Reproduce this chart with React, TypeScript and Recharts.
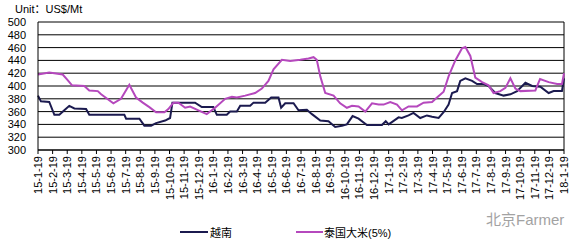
import { LineChart, Line, XAxis, YAxis, CartesianGrid, ReferenceLine, Legend } from 'recharts'

// x positions are months since 15-1-19 (0 .. 36)
const monthLabels = [
  '15-1-19', '15-2-19', '15-3-19', '15-4-19', '15-5-19', '15-6-19', '15-7-19', '15-8-19', '15-9-19',
  '15-10-19', '15-11-19', '15-12-19', '16-1-19', '16-2-19', '16-3-19', '16-4-19', '16-5-19', '16-6-19',
  '16-7-19', '16-8-19', '16-9-19', '16-10-19', '16-11-19', '16-12-19', '17-1-19', '17-2-19', '17-3-19',
  '17-4-19', '17-5-19', '17-6-19', '17-7-19', '17-8-19', '17-9-19', '17-10-19', '17-11-19', '17-12-19',
  '18-1-19',
]
const yTicks = [300, 320, 340, 360, 380, 400, 420, 440, 460, 480, 500]

// 越南
const vnMonth = [
  0, 0.2, 0.77, 1.12, 1.46, 1.8, 2.14, 2.49, 3.29, 3.51, 5.91, 6.03, 6.94, 7.28, 7.74, 8.08, 8.7, 9.04,
  9.2, 10.75, 11.21, 12.0, 12.24, 12.92, 13.15, 13.61, 13.84, 14.52, 14.75, 15.55, 15.96, 16.46, 16.64,
  16.92, 17.49, 17.83, 18.4, 18.75, 19.32, 19.88, 20.34, 20.8, 21.14, 21.53, 21.94, 22.51, 23.54, 23.8,
  24.0, 24.68, 24.9, 25.36, 25.7, 26.16, 26.62, 26.97, 27.42, 27.76, 28.1, 28.34, 28.68, 28.9, 29.25,
  29.71, 30.05, 30.5, 30.84, 31.3, 31.87, 32.33, 32.79, 33.36, 33.82, 34.38, 34.95, 35.29, 35.86, 36.0,
]
const vnPrice = [
  385, 376, 375, 355, 355, 362, 369, 365, 364, 355, 355, 349, 349, 338, 338, 342, 346, 350,
  374, 374, 367, 367, 355, 355, 360, 360, 369, 369, 374, 374, 382, 382, 366,
  373, 373, 362, 363, 356, 346, 345, 336, 338, 340, 353, 349, 339, 339, 345,
  340, 351, 350, 354, 358, 350, 354, 352, 350, 359, 371, 389, 392, 408, 412,
  408, 403, 403, 400, 389, 385, 387, 392, 405, 400, 399, 389, 392, 392, 412,
]

// 泰国大米(5%)
const thMonth = [
  0, 0.77, 1.69, 2.0, 2.33, 3.17, 3.51, 4.09, 4.32, 5.16, 5.68, 6.25, 6.71, 7.17, 7.62, 8.08, 8.65, 8.92,
  9.27, 9.61, 10.07, 10.41, 10.98, 11.55, 12.12, 12.81, 13.27, 13.61, 14.18, 14.86, 15.32, 15.77, 16.12,
  16.69, 17.26, 17.95, 18.51, 18.86, 19.08, 19.32, 19.66, 20.23, 20.68, 21.14, 21.49, 21.94, 22.4, 22.86,
  23.31, 23.65, 24.11, 24.57, 24.91, 25.36, 25.94, 26.39, 26.97, 27.31, 27.76, 28.1, 28.56, 29.02, 29.25,
  29.59, 29.93, 30.39, 30.84, 31.18, 31.64, 31.99, 32.33, 32.67, 33.01, 34.04, 34.36, 34.95, 35.53, 35.86, 36.0,
]
const thPrice = [
  418, 421, 418, 410, 401, 400, 393, 392, 387, 373, 380, 402, 382, 374, 367, 359, 359, 364,
  374, 374, 366, 368, 362, 356, 366, 380, 383, 382, 385, 389, 396, 408, 426,
  441, 439, 441, 443, 445, 441, 415, 389, 385, 373, 366, 369, 368, 360, 373,
  371, 371, 375, 371, 362, 368, 368, 374, 375, 382, 391, 415, 440, 459, 461,
  447, 413, 406, 401, 389, 392, 397, 412, 396, 392, 393, 411, 406, 403, 403, 420,
]

const VN_COLOR = '#1b1a4f'
const TH_COLOR = '#b548bd'
const FONT = '"Liberation Sans", Arial, "Noto Sans CJK SC", sans-serif'

const vnData = vnMonth.map((m, i) => ({ m, price: vnPrice[i] }))
const thData = thMonth.map((m, i) => ({ m, price: thPrice[i] }))

const MonthTick = ({ x, y, payload }: any) => (
  <g transform={`translate(${x},${y})`}>
    <text x={0} y={0} dy={4} transform="rotate(-90)" textAnchor="end" fontSize={11} fill="#000" fontFamily={FONT}>
      {monthLabels[payload.value]}
    </text>
  </g>
)

const renderLegend = () => (
  <div style={{ position: 'relative', height: 16, fontFamily: FONT, fontSize: 11, color: '#000' }}>
    <div style={{ position: 'absolute', left: 180, top: 7, width: 28, height: 2, background: VN_COLOR }} />
    <span style={{ position: 'absolute', left: 210, top: 0 }}>越南</span>
    <div style={{ position: 'absolute', left: 296, top: 7, width: 27, height: 2, background: TH_COLOR }} />
    <span style={{ position: 'absolute', left: 324, top: 0 }}>泰国大米(5%)</span>
  </div>
)

export default function App() {
  return (
    <div style={{ position: 'absolute', left: 0, top: 0, width: 579, height: 244, background: '#fff' }}>
      <div style={{ position: 'absolute', left: 15, top: 3, fontFamily: FONT, fontSize: 11, lineHeight: '13px' }}>
        Unit：US$/Mt
      </div>
      <LineChart width={579} height={244} margin={{ top: 22, right: 15, bottom: 33, left: 8 }}>
        <CartesianGrid horizontal vertical={false} stroke="#000" strokeWidth={1} />
        <XAxis
          type="number"
          dataKey="m"
          domain={[0, 36]}
          ticks={monthLabels.map((_, i) => i)}
          interval={0}
          height={45}
          tick={<MonthTick />}
          tickSize={4}
          tickMargin={2}
          axisLine={{ stroke: '#000' }}
          tickLine={{ stroke: '#000' }}
        />
        <YAxis
          domain={[300, 500]}
          ticks={yTicks}
          interval={0}
          width={30}
          tickLine={false}
          tickSize={6}
          tickMargin={6}
          axisLine={{ stroke: '#000' }}
          tick={{ fontSize: 11, fill: '#000', fontFamily: FONT }}
        />
        <ReferenceLine x={36} stroke="#000" />
        <Line
          data={vnData}
          dataKey="price"
          name="越南"
          type="linear"
          stroke={VN_COLOR}
          strokeWidth={2}
          dot={false}
          isAnimationActive={false}
        />
        <Line
          data={thData}
          dataKey="price"
          name="泰国大米(5%)"
          type="linear"
          stroke={TH_COLOR}
          strokeWidth={2}
          dot={false}
          isAnimationActive={false}
        />
        <Legend content={renderLegend} wrapperStyle={{ position: 'absolute', left: 0, top: 224, width: 579 }} />
      </LineChart>
      <div
        style={{
          position: 'absolute',
          left: 486,
          top: 208,
          fontFamily: FONT,
          fontSize: 15,
          color: '#8c8c8c',
          opacity: 0.8,
        }}
      >
        北京Farmer
      </div>
    </div>
  )
}
